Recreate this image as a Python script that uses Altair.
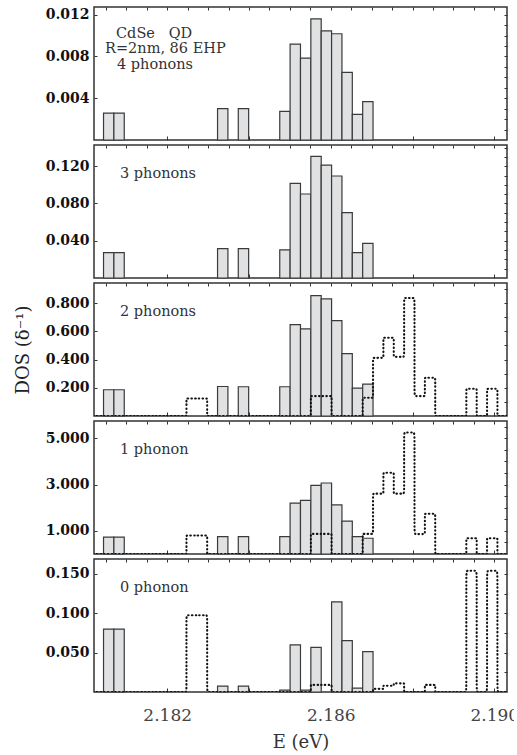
import altair as alt
import pandas as pd

# ---------------- data ----------------
E_REF = 2.18602          # left edge of bin 0 (eV)
BIN_W = 0.0002535        # histogram bin width (eV)
X_DOMAIN = [2.18021, 2.19031]

bar_bins = [-22, -21, -11, -9, -5, -4, -3, -2, -1, 0, 1, 2, 3]
bars_4ph = [0.00258, 0.00258, 0.0030, 0.0030, 0.00274, 0.00918, 0.00784, 0.0116, 0.01045, 0.01017, 0.00647, 0.00245, 0.00367]
bars_3ph = [0.0273, 0.0273, 0.0316, 0.0316, 0.0302, 0.1015, 0.0902, 0.1305, 0.1211, 0.1095, 0.0702, 0.0273, 0.0371]
bars_2ph = [0.186, 0.186, 0.209, 0.207, 0.207, 0.647, 0.617, 0.852, 0.829, 0.676, 0.442, 0.198, 0.226]
bars_1ph = [0.726, 0.726, 0.75, 0.75, 0.75, 2.20, 2.32, 2.97, 3.07, 2.12, 1.42, 0.75, 0.68]
bars_0ph = [0.080, 0.080, 0.0074, 0.0074, 0.0023, 0.060, 0.0025, 0.0568, 0.0, 0.1146, 0.0653, 0.0049, 0.0513]

dot_bins = [-14, -13, -2, -1, 3, 4, 5, 6, 7, 8, 9, 13, 15]
dots_2ph = [0.124, 0.124, 0.141, 0.141, 0.129, 0.412, 0.554, 0.419, 0.836, 0.141, 0.271, 0.193, 0.193]
dots_1ph = [0.80, 0.80, 0.87, 0.87, 0.87, 2.61, 3.51, 2.61, 5.25, 0.86, 1.74, 0.68, 0.68]
dots_0ph = [0.0976, 0.0976, 0.009, 0.009, 0.0, 0.004, 0.008, 0.011, 0.0, 0.0, 0.009, 0.154, 0.154]
DOT_RANGE = (-23, 18)

x_major = [2.182, 2.184, 2.186, 2.188, 2.190]
x_minor = [2.1805, 2.181, 2.1815, 2.182, 2.1825, 2.183, 2.1835, 2.184, 2.1845, 2.185,
           2.1855, 2.186, 2.1865, 2.187, 2.1875, 2.188, 2.1885, 2.189, 2.1895, 2.190]

panels_spec = [
    dict(bars=bars_4ph, dots=None, ytop=0.01273,
         yticks=[0.004, 0.008, 0.012],
         yminor=[0.001, 0.002, 0.003, 0.004, 0.005, 0.006, 0.007, 0.008, 0.009, 0.010, 0.011, 0.012],
         texts=[("CdSe\u00a0\u00a0\u00a0QD", 22, 31), ("R=2nm, 86 EHP", 11, 46), ("4 phonons", 23, 62)],
         ytitle=" "),
    dict(bars=bars_3ph, dots=None, ytop=0.1428,
         yticks=[0.04, 0.08, 0.12],
         yminor=[0.01, 0.02, 0.03, 0.04, 0.05, 0.06, 0.07, 0.08, 0.09, 0.10, 0.11, 0.12, 0.13, 0.14],
         texts=[("3 phonons", 26, 33)], ytitle=" "),
    dict(bars=bars_2ph, dots=dots_2ph, ytop=0.942,
         yticks=[0.2, 0.4, 0.6, 0.8],
         yminor=[0.1, 0.2, 0.3, 0.4, 0.5, 0.6, 0.7, 0.8, 0.9],
         texts=[("2 phonons", 26, 33)], ytitle="DOS (\u03b4\u207b\u00b9)"),
    dict(bars=bars_1ph, dots=dots_1ph, ytop=5.75,
         yticks=[1.0, 3.0, 5.0],
         yminor=[0.5, 1.0, 1.5, 2.0, 2.5, 3.0, 3.5, 4.0, 4.5, 5.0, 5.5],
         texts=[("1 phonon", 26, 33)], ytitle=" "),
    dict(bars=bars_0ph, dots=dots_0ph, ytop=0.169,
         yticks=[0.05, 0.10, 0.15],
         yminor=[0.025, 0.05, 0.075, 0.10, 0.125, 0.15],
         texts=[("0 phonon", 26, 33)], ytitle=" "),
]

W, H = 413, 133
SERIF = "DejaVu Serif"


def edge(k):
    return E_REF + k * BIN_W


def build_panel(spec, last):
    bdf = pd.DataFrame({
        "E0": [edge(b) for b in bar_bins],
        "E1": [edge(b + 1) for b in bar_bins],
        "v": spec["bars"],
    })
    bdf = bdf[bdf["v"] > 0]
    xs = alt.Scale(domain=X_DOMAIN, nice=False, zero=False)
    ys = alt.Scale(domain=[0, spec["ytop"]], nice=False, zero=False)

    bars = alt.Chart(bdf).mark_rect(fill="#e0e1e3", stroke="#3a3a3a", strokeWidth=1.2).encode(
        x=alt.X("E0:Q", scale=xs, axis=alt.Axis(
            orient="top", values=x_minor, labels=False, domain=False, grid=False,
            tickSize=3, offset=-3, tickColor="#333", title=None, minExtent=0)),
        x2="E1:Q",
        y=alt.Y("v:Q", scale=ys, axis=alt.Axis(
            orient="left", values=spec["yticks"], format=".3f", domain=False, grid=False,
            tickSize=3, offset=-3, tickColor="#333", labelPadding=5,
            labelFont=SERIF, labelFontSize=14, labelFontWeight="bold", labelColor="#111",
            title=spec["ytitle"], titleFont=SERIF, titleFontSize=18, titleFontWeight="normal",
            titleColor="#222", titlePadding=13, minExtent=0)),
        y2=alt.datum(0),
    )

    if last:
        bottom_axis = alt.Axis(
            orient="bottom", values=x_major, format=".3f",
            labelExpr="(datum.label == '2.184' || datum.label == '2.188') ? '' : datum.label",
            domain=False, grid=False, tickSize=4, offset=-4, tickColor="#333",
            labelPadding=15, labelFont=SERIF, labelFontSize=17, labelColor="#444",
            labelOverlap=False, labelBound=False,
            title="E (eV)", titleFont=SERIF, titleFontSize=18, titleFontWeight="normal",
            titleColor="#333", titlePadding=10, minExtent=0)
    else:
        bottom_axis = alt.Axis(
            orient="bottom", values=x_major, labels=False, domain=False, grid=False,
            tickSize=4, offset=-4, tickColor="#333", title=None, minExtent=0)

    ghost = alt.Chart(bdf).mark_point(opacity=0).encode(
        x=alt.X("E0:Q", scale=xs, axis=bottom_axis),
        y=alt.Y("v:Q", scale=ys, axis=alt.Axis(
            orient="right", values=spec["yminor"], labels=False, domain=False, grid=False,
            tickSize=3, offset=-3, tickColor="#333", title=None, minExtent=0)),
    )

    layers = [bars, ghost]

    if spec["dots"] is not None:
        dmap = dict(zip(dot_bins, spec["dots"]))
        pts = []
        for k in range(DOT_RANGE[0], DOT_RANGE[1]):
            v = dmap.get(k, 0.0)
            for e in (edge(k), edge(k), edge(k + 1), edge(k + 1)):
                pts.append((e, v))
        ldf = pd.DataFrame({"i": list(range(len(pts))), "E": [p[0] for p in pts], "v": [p[1] for p in pts]})
        line = alt.Chart(ldf).mark_line(
            interpolate="basis", color="#111", strokeWidth=2.1, strokeDash=[0.5, 3.2],
            strokeCap="round", clip=True,
        ).encode(
            x=alt.X("E:Q", scale=xs, axis=None),
            y=alt.Y("v:Q", scale=ys, axis=None),
            order=alt.Order("i:Q"),
        )
        layers.append(line)

    for (txt, tx, ty) in spec["texts"]:
        tdf = pd.DataFrame({"t": [txt]})
        layers.append(
            alt.Chart(tdf).mark_text(
                align="left", baseline="alphabetic", font=SERIF, fontSize=14.5, color="#333"
            ).encode(x=alt.value(tx), y=alt.value(ty), text="t:N")
        )

    return alt.layer(*layers).properties(width=W, height=H)


panels = [build_panel(s, i == len(panels_spec) - 1) for i, s in enumerate(panels_spec)]

chart = alt.vconcat(*panels, spacing=1).properties(
    padding={"left": 13, "top": 5, "right": -6, "bottom": 0}
).configure_view(
    stroke="#333", strokeWidth=1.5
).configure_axis(grid=False)

chart.save("out.html", embed_options={"renderer": "svg", "actions": False})
